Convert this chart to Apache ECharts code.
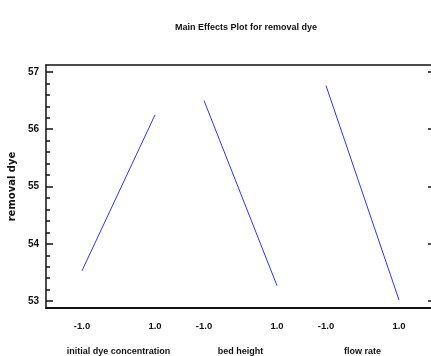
<!DOCTYPE html>
<html lang="en">
<head>
	<meta charset="UTF-8">
	<title>Main Effects Plot</title>
</head>
<style>
	html, body { margin: 0; padding: 0; background: #fff; }
	#main { width: 431px; height: 356px; }
</style>
<body>
	<div id="main"></div>
	<script src="https://cdn.jsdelivr.net/npm/echarts@6/dist/echarts.min.js"></script>
	<script>
		// factors and their low/high levels
		var factors = ['initial dye concentration', 'bed height', 'flow rate'];
		var levels = [-1, 1];
		// mean response at low / high level
		var lowMeans = [53.53, 56.50, 56.76];
		var highMeans = [56.25, 53.27, 53.02];
		var yTicks = [53, 54, 55, 56, 57];
		var yMinorTicks = [53.2, 53.4, 53.6, 53.8, 54.2, 54.4, 54.6, 54.8, 55.2, 55.4, 55.6, 55.8, 56.2, 56.4, 56.6, 56.8];

		var font = '"Liberation Sans", Arial, sans-serif';
		var yMin = 52.88, yMax = 57.12;
		var plotTop = 65, plotHeight = 243;
		var panelLeft = [82, 204, 326], panelWidth = 73;

		var myChart = echarts.init(document.getElementById('main'));

		var grid = [{ left: 46, right: -2, top: plotTop, height: plotHeight, outerBoundsMode: 'none' }];
		var xAxis = [
			{ gridIndex: 0, type: 'value', min: 0, max: 1, position: 'bottom',
			  axisLine: { lineStyle: { color: '#111', width: 2 } },
			  axisTick: { show: false }, axisLabel: { show: false }, splitLine: { show: false } },
			{ gridIndex: 0, type: 'value', min: 0, max: 1, position: 'top',
			  axisLine: { lineStyle: { color: '#111', width: 1.5 } },
			  axisTick: { show: false }, axisLabel: { show: false }, splitLine: { show: false } }
		];
		var yAxis = [
			{ gridIndex: 0, type: 'value', min: yMin, max: yMax, position: 'left',
			  name: 'removal dye', nameLocation: 'middle', nameGap: 28,
			  nameTextStyle: { fontFamily: 'DejaVu Sans', fontWeight: 'bold', fontSize: 10, color: '#111' },
			  axisLine: { show: true, lineStyle: { color: '#111', width: 1.5 } },
			  axisTick: { show: true, inside: true, length: 7, customValues: yTicks, lineStyle: { color: '#111', width: 1.5 } },
			  axisLabel: { show: true, customValues: yTicks, margin: 7, fontFamily: font, fontWeight: 'bold', fontSize: 10, color: '#111' },
			  splitLine: { show: false } },
			{ gridIndex: 0, type: 'value', min: yMin, max: yMax, position: 'left',
			  axisLine: { show: false },
			  axisTick: { show: true, inside: true, length: 4, customValues: yMinorTicks, lineStyle: { color: '#111', width: 1.5 } },
			  axisLabel: { show: false }, splitLine: { show: false } },
			{ gridIndex: 0, type: 'value', min: yMin, max: yMax, position: 'right',
			  axisLine: { show: false },
			  axisTick: { show: true, inside: true, length: 5, customValues: yTicks, lineStyle: { color: '#111', width: 1.5 } },
			  axisLabel: { show: false }, splitLine: { show: false } }
		];
		var series = [];

		for (var i = 0; i < factors.length; i++) {
			grid.push({ left: panelLeft[i], width: panelWidth, top: plotTop, height: plotHeight, outerBoundsMode: 'none' });
			xAxis.push({
				gridIndex: i + 1, type: 'value', min: levels[0], max: levels[1],
				name: factors[i], nameLocation: 'middle', nameGap: 39,
				nameTextStyle: { fontFamily: font, fontWeight: 'bold', fontSize: 9, color: '#111' },
				axisLine: { show: false }, axisTick: { show: false }, splitLine: { show: false },
				axisLabel: { customValues: levels, margin: 13, fontFamily: font, fontWeight: 'bold', fontSize: 9.5, color: '#111',
					formatter: function (v) { return v.toFixed(1); } }
			});
			yAxis.push({ gridIndex: i + 1, type: 'value', min: yMin, max: yMax, show: false });
			series.push({
				type: 'line', xAxisIndex: i + 2, yAxisIndex: i + 3,
				data: [[levels[0], lowMeans[i]], [levels[1], highMeans[i]]],
				showSymbol: false, silent: true, animation: false,
				lineStyle: { color: '#3030ff', width: 1 }
			});
		}

		var option = {
			animation: false,
			title: {
				text: 'Main Effects Plot for removal dye',
				left: 241, textAlign: 'center', top: 18,
				textStyle: { fontFamily: font, fontWeight: 'bold', fontSize: 9, color: '#111' }
			},
			grid: grid,
			xAxis: xAxis,
			yAxis: yAxis,
			series: series
		};
		myChart.setOption(option);
	</script>
</body>
</html>
